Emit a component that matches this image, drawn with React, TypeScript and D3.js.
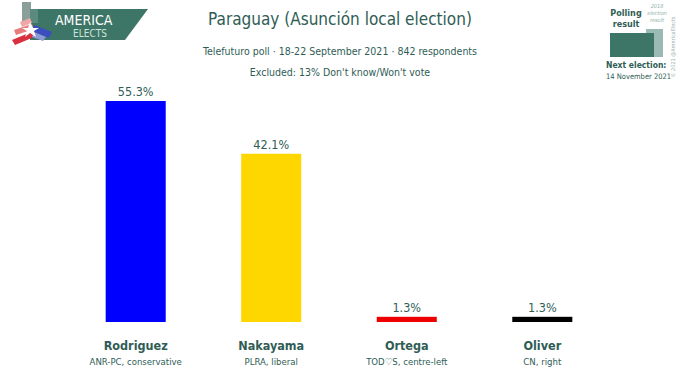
import React from "react";
import * as d3 from "d3";

const candidates = ["Rodriguez", "Nakayama", "Ortega", "Oliver"];
const parties = ["ANR-PC, conservative", "PLRA, liberal", "TOD♡S, centre-left", "CN, right"];
const values = [55.3, 42.1, 1.3, 1.3];
const valueLabels = ["55.3%", "42.1%", "1.3%", "1.3%"];
const colors = ["#0000ff", "#ffd700", "#ee0000", "#000000"];

const W = 680, H = 373;
const TEAL = "#2f5d55";
const FONT = "'DejaVu Sans Condensed', 'Liberation Sans Narrow', 'Open Sans', sans-serif";

export default function App() {
  const x = d3.scaleBand<string>().domain(candidates).range([68, 610]).paddingInner(0.557).paddingOuter(0.278);
  const y = d3.scaleLinear().domain([0, 55.3]).range([322, 101]);
  return (
    <svg width={W} height={H} style={{ position: "absolute", left: 0, top: 0, background: "#fff" }} fontFamily={FONT}>
      {/* logo */}
      <g>
        <rect x={22} y={2} width={9} height={22} fill="#8a9f9a" />
        <polygon points="30,9 148,9 125,40 30,40" fill="#3d7566" />
        <rect x={30} y={9} width={8} height={14} fill="#5b8a7e" />
        <polygon points="12,40 36,30 39,35 15,45" fill="#d93040" />
        <polygon points="14,30 32,24 34,29 16,35" fill="#e87b7b" />
        <polygon points="20,22 30,18 32,23 22,27" fill="#f0a6a6" />
        <polygon points="34,25 52,32 49,38 32,31" fill="#3a4ec0" />
        <polygon points="34,32 46,37 43,41 32,37" fill="#8e9ad8" />
        <polygon points="30,22 33,28 39,28 34,31 36,37 30,33 25,37 27,31 22,28 28,28" fill="#ffffff" />
        <text x={55} y={25} fill="#ffffff" fontSize={14} fontFamily={FONT}>AMERICA</text>
        <text x={73} y={37} fill="#cfe3dc" fontSize={10} fontFamily={FONT}>ELECTS</text>
      </g>
      {/* titles */}
      <text x={340} y={25} textAnchor="middle" fill={TEAL} fontSize={17}>Paraguay (Asunción local election)</text>
      <text x={340} y={55} textAnchor="middle" fill={TEAL} fontSize={10.5}>Telefuturo poll · 18-22 September 2021 · 842 respondents</text>
      <text x={340} y={76} textAnchor="middle" fill={TEAL} fontSize={10.5}>Excluded: 13% Don't know/Won't vote</text>
      {/* legend top-right */}
      <g>
        <text x={626} y={16} textAnchor="middle" fill={TEAL} fontSize={9} fontWeight="bold">Polling</text>
        <text x={626} y={27} textAnchor="middle" fill={TEAL} fontSize={9} fontWeight="bold">result</text>
        <text x={657} y={8} textAnchor="middle" fill="#8fb1a9" fontSize={5.5} fontStyle="italic">2018</text>
        <text x={657} y={15} textAnchor="middle" fill="#8fb1a9" fontSize={5.5} fontStyle="italic">election</text>
        <text x={657} y={22} textAnchor="middle" fill="#8fb1a9" fontSize={5.5} fontStyle="italic">result</text>
        <rect x={646} y={29} width={17} height={28} fill="#9bbab3" />
        <rect x={610} y={33} width={44} height={24} fill="#3d7566" />
        <text transform="translate(675,47) rotate(-90)" textAnchor="middle" fill="#9ab2ac" fontSize={5.5}>© 2021 @AmericaElects</text>
        <text x={606} y={68} fill={TEAL} fontSize={8.5} fontWeight="bold">Next election:</text>
        <text x={606} y={79} fill={TEAL} fontSize={7.5}>14 November 2021</text>
      </g>
      {/* bars */}
      {candidates.map((c, i) => {
        const bx = x(c)!;
        const cx = bx + x.bandwidth() / 2;
        return (
          <g key={c}>
            <rect x={bx} y={y(values[i])} width={x.bandwidth()} height={y(0) - y(values[i])} fill={colors[i]} />
            <text x={cx} y={y(values[i]) - 5} textAnchor="middle" fill={TEAL} fontSize={12.5}>{valueLabels[i]}</text>
            <text x={cx} y={350} textAnchor="middle" fill={TEAL} fontSize={12.5} fontWeight="bold">{c}</text>
            <text x={cx} y={365} textAnchor="middle" fill={TEAL} fontSize={9.5}>{parties[i]}</text>
          </g>
        );
      })}
    </svg>
  );
}
